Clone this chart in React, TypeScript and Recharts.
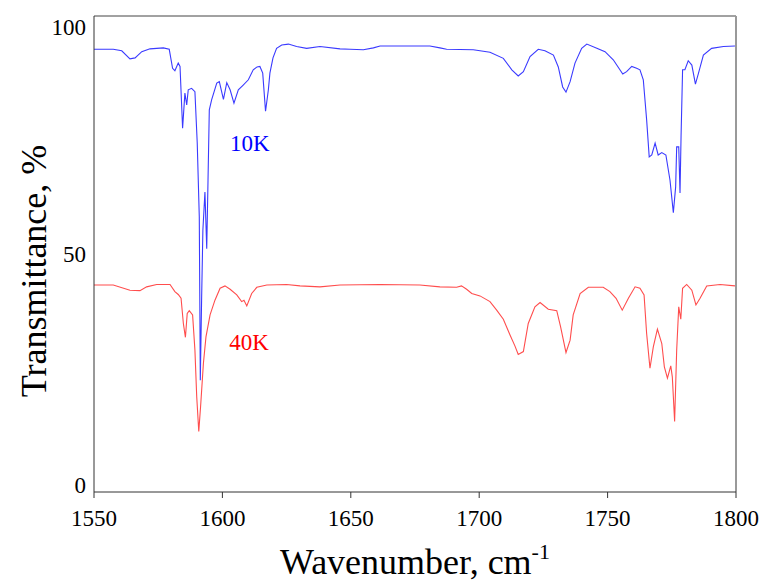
import React from 'react';
import { LineChart, Line, XAxis, YAxis, ReferenceLine, ReferenceDot } from 'recharts';

const FONT = '"Liberation Serif", "Times New Roman", Times, serif';

const xTicks = [1550, 1600, 1650, 1700, 1750, 1800];
const yTicks = [0, 50, 100];

const blueWn = [1550.0, 1557.5, 1560.8, 1564.0, 1566.0, 1568.6, 1571.8, 1577.0, 1579.3, 1580.6, 1581.5, 1582.8, 1583.5, 1584.5, 1585.4, 1586.1, 1586.7, 1588.0, 1589.3, 1590.2, 1591.0, 1591.4, 1591.9, 1592.4, 1593.2, 1593.9, 1594.4, 1594.9, 1595.8, 1597.8, 1598.8, 1600.4, 1601.7, 1603.0, 1604.5, 1606.2, 1608.1, 1610.1, 1612.0, 1613.5, 1614.6, 1615.7, 1616.8, 1617.9, 1618.5, 1619.7, 1621.1, 1623.1, 1625.7, 1628.9, 1632.8, 1638.0, 1645.8, 1649.7, 1654.9, 1658.8, 1661.4, 1671.8, 1680.8, 1684.7, 1687.3, 1697.7, 1704.2, 1709.4, 1712.7, 1715.2, 1717.2, 1719.8, 1723.0, 1725.6, 1728.9, 1730.8, 1732.5, 1733.8, 1735.4, 1737.3, 1739.9, 1741.9, 1745.8, 1749.0, 1752.2, 1755.9, 1757.4, 1759.4, 1761.3, 1762.6, 1763.9, 1765.2, 1766.2, 1767.2, 1768.5, 1769.7, 1771.1, 1772.7, 1774.3, 1775.6, 1776.5, 1776.9, 1777.7, 1778.2, 1778.6, 1779.2, 1780.1, 1781.4, 1782.8, 1784.2, 1785.4, 1787.3, 1790.5, 1795.1, 1799.6];
const blueT = [93.0, 93.0, 92.7, 91.0, 91.2, 92.5, 93.1, 93.3, 93.0, 89.0, 88.5, 90.1, 89.4, 76.4, 83.8, 81.3, 84.5, 84.8, 84.1, 73.3, 57.8, 23.5, 40.3, 55.0, 63.0, 51.1, 65.5, 80.3, 82.4, 85.9, 86.2, 82.5, 86.0, 84.5, 81.7, 84.5, 85.5, 86.6, 88.7, 89.3, 89.4, 88.0, 80.0, 84.5, 88.0, 91.2, 93.2, 93.9, 94.1, 93.6, 93.2, 93.6, 93.1, 93.0, 92.9, 93.3, 93.7, 93.7, 93.7, 93.3, 93.0, 92.9, 92.4, 91.1, 88.7, 87.4, 88.3, 91.5, 93.0, 92.7, 91.8, 89.3, 85.1, 84.0, 86.2, 90.1, 93.2, 94.1, 93.2, 92.5, 90.8, 87.8, 88.3, 89.4, 89.0, 88.7, 86.6, 78.2, 70.4, 70.8, 73.3, 70.8, 71.3, 70.8, 65.5, 58.7, 64.1, 72.5, 72.5, 62.8, 74.6, 88.7, 88.7, 90.6, 89.7, 85.7, 88.0, 91.8, 93.2, 93.6, 93.7];

const redWn = [1550.0, 1557.5, 1564.0, 1567.9, 1570.5, 1574.4, 1579.6, 1581.5, 1582.8, 1583.9, 1584.8, 1585.6, 1586.3, 1587.1, 1588.4, 1589.3, 1590.0, 1590.8, 1591.5, 1592.6, 1593.6, 1595.2, 1597.1, 1599.1, 1601.0, 1603.0, 1605.6, 1607.5, 1608.4, 1609.5, 1611.4, 1613.4, 1617.3, 1625.0, 1630.2, 1638.0, 1645.8, 1661.4, 1676.9, 1684.7, 1691.2, 1693.1, 1695.1, 1697.1, 1700.3, 1704.2, 1706.8, 1709.4, 1712.0, 1713.9, 1715.2, 1717.2, 1719.1, 1721.7, 1723.7, 1726.9, 1730.2, 1731.7, 1733.8, 1735.4, 1736.6, 1739.3, 1742.5, 1748.3, 1750.9, 1753.3, 1755.7, 1758.1, 1760.7, 1762.6, 1764.2, 1765.2, 1766.5, 1767.8, 1769.4, 1771.1, 1772.1, 1773.3, 1774.6, 1775.2, 1776.1, 1776.9, 1777.7, 1778.5, 1779.2, 1780.8, 1782.8, 1784.4, 1786.0, 1788.6, 1793.8, 1799.6];
const redT = [43.5, 43.5, 42.4, 42.3, 43.1, 43.6, 43.6, 42.1, 41.5, 40.7, 35.4, 32.5, 37.5, 38.1, 37.2, 29.8, 20.0, 12.7, 17.9, 27.0, 32.6, 37.2, 40.3, 42.8, 43.3, 42.6, 41.4, 40.0, 40.3, 39.1, 41.7, 43.0, 43.5, 43.6, 43.3, 43.1, 43.5, 43.6, 43.5, 43.1, 43.0, 43.3, 42.6, 41.7, 41.2, 40.0, 38.2, 36.3, 33.0, 30.7, 28.9, 29.5, 35.4, 38.9, 39.8, 38.4, 38.1, 34.7, 29.3, 31.9, 37.2, 41.7, 43.0, 43.0, 42.1, 40.7, 38.2, 40.7, 43.1, 42.8, 41.4, 33.3, 26.0, 30.5, 34.2, 31.2, 26.3, 23.9, 26.5, 24.2, 14.8, 29.8, 38.9, 36.3, 42.8, 43.6, 42.4, 39.3, 40.7, 43.3, 43.6, 43.3];

const seriesLabels = ['10K', '40K'];
const labelPos = [
  { wn: 1610.7, t: 73.3 },
  { wn: 1610.4, t: 31.5 },
];

const blueData = blueWn.map((wn, i) => ({ wn, t: blueT[i] }));
const redData = redWn.map((wn, i) => ({ wn, t: redT[i] }));

const XTick = (props: any) => {
  const { x, y, payload } = props;
  return (
    <text x={x} y={y} dy={16} textAnchor="middle" style={{ fontFamily: FONT, fontSize: 23, fill: '#000' }}>
      {payload.value}
    </text>
  );
};

const YTick = (props: any) => {
  const { x, y, payload } = props;
  const v = payload.value;
  const dy = v === 0 ? -7 : v === 100 ? 10 : 0;
  return (
    <text x={x} y={y + dy} dy={8} textAnchor="end" style={{ fontFamily: FONT, fontSize: 23, fill: '#000' }}>
      {v}
    </text>
  );
};

const XTitle = (props: any) => {
  const vb = props.viewBox || {};
  const cx = vb.x + vb.width / 2;
  const y = vb.y + 82;
  return (
    <text x={cx} y={y} textAnchor="middle" style={{ fontFamily: FONT, fontSize: 36, fill: '#000' }}>
      <tspan>Wavenumber, cm</tspan>
      <tspan dy={-15} style={{ fontSize: 22 }}>-1</tspan>
    </text>
  );
};

const YTitle = (props: any) => {
  const vb = props.viewBox || {};
  const cx = vb.x + 38;
  const cy = vb.y + vb.height / 2 + 17;
  return (
    <text x={cx} y={cy} transform={`rotate(-90, ${cx}, ${cy})`} textAnchor="middle" style={{ fontFamily: FONT, fontSize: 36, fill: '#000' }}>
      Transmittance, %
    </text>
  );
};

export default function App() {
  return (
    <LineChart width={759} height={573} margin={{ top: 8, right: 31, left: 0, bottom: 0 }}>
      <XAxis
        type="number"
        dataKey="wn"
        domain={[1550, 1800]}
        ticks={xTicks}
        allowDataOverflow
        height={89}
        stroke="#333"
        tickSize={6}
        tickMargin={12}
        tick={<XTick />}
        label={<XTitle />}
      />
      <YAxis
        type="number"
        dataKey="t"
        domain={[0, 100]}
        ticks={yTicks}
        allowDataOverflow
        width={86}
        stroke="#333"
        tickLine={false}
        tickMargin={2}
        tick={<YTick />}
        label={<YTitle />}
      />
      <ReferenceLine y={100} stroke="#444" strokeWidth={1} />
      <ReferenceLine x={1800} stroke="#999" strokeWidth={2} />
      <Line data={blueData} dataKey="t" type="linear" stroke="#3a3aff" strokeWidth={1.1} dot={false} isAnimationActive={false} />
      <Line data={redData} dataKey="t" type="linear" stroke="#ff4d4d" strokeWidth={1.1} dot={false} isAnimationActive={false} />
      <ReferenceDot
        x={labelPos[0].wn}
        y={labelPos[0].t}
        r={0}
        fill="none"
        stroke="none"
        label={{ value: seriesLabels[0], position: 'center', fontFamily: FONT, fontSize: 23, fill: '#0000ff', style: { fontFamily: FONT } }}
      />
      <ReferenceDot
        x={labelPos[1].wn}
        y={labelPos[1].t}
        r={0}
        fill="none"
        stroke="none"
        label={{ value: seriesLabels[1], position: 'center', fontFamily: FONT, fontSize: 23, fill: '#ff0000', style: { fontFamily: FONT } }}
      />
    </LineChart>
  );
}
